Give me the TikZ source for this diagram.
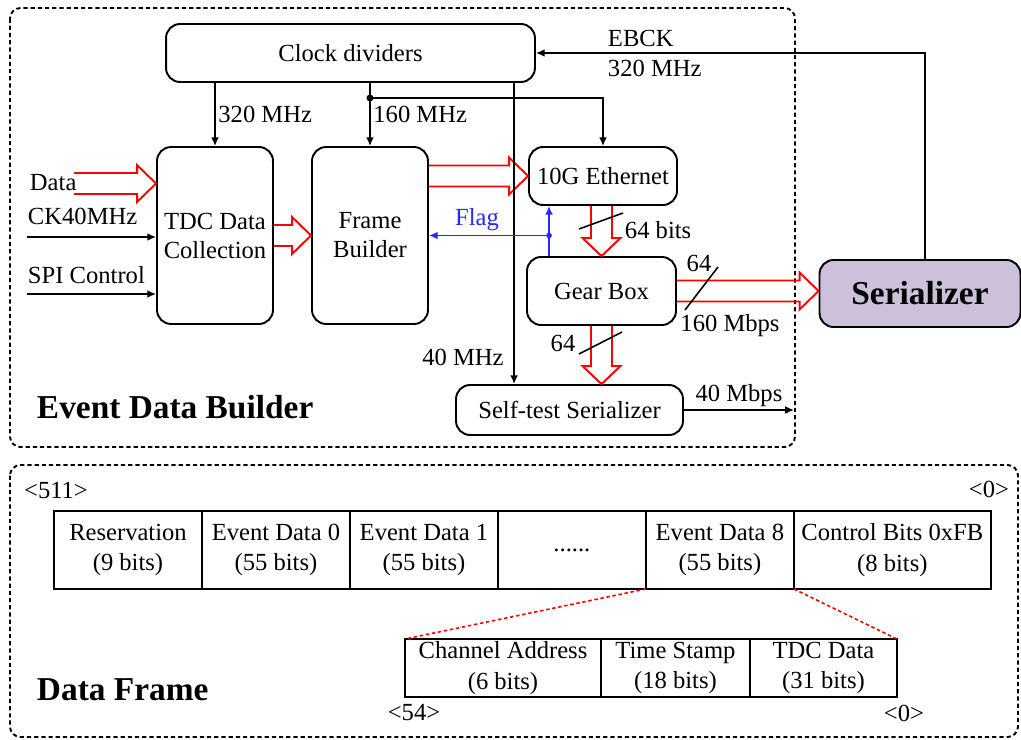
\documentclass[tikz,border=0pt]{standalone}
\usepackage{fontspec}
\setmainfont{Liberation Serif}
\usepackage{xcolor}
\usepackage{tikz}
\usetikzlibrary{arrows.meta,calc,positioning}

\definecolor{serfill}{RGB}{204,192,218}
\definecolor{flagblue}{RGB}{40,40,255}

% hollow red bus arrows (start point, tip point)
\newcommand{\fatright}[2]{%
  \draw[fat] ($(#1)+(0,-10.5)$) -- ($(#2)+(-19,-10.5)$) -- ($(#2)+(-19,-18.5)$)
    -- (#2) -- ($(#2)+(-19,18.5)$) -- ($(#2)+(-19,10.5)$) -- ($(#1)+(0,10.5)$);}
\newcommand{\fatdown}[2]{%
  \draw[fat] ($(#1)+(-10.5,0)$) -- ($(#2)+(-10.5,-18)$) -- ($(#2)+(-19,-18)$)
    -- (#2) -- ($(#2)+(19,-18)$) -- ($(#2)+(10.5,-18)$) -- ($(#1)+(10.5,0)$);}

\begin{document}
\begin{tikzpicture}[x=0.02cm,y=-0.02cm,
  font=\fontsize{14}{16.5}\selectfont,
  >={Latex[length=5pt,width=4.5pt]},
  lbl/.style={inner sep=1.5pt},
  blk/.style={draw,line width=1.1pt,rounded corners=8pt,align=center,inner sep=0pt},
  fat/.style={draw=red,line width=1.1pt},
  wire/.style={line width=0.9pt},
  flagline/.style={draw=flagblue,line width=0.9pt},
  cell/.style={draw,line width=1.1pt,align=center,inner sep=0pt,outer sep=0pt,
    minimum width=2.96cm,minimum height=1.56cm,font=\fontsize{14}{17.5}\selectfont},
  subcell/.style={cell,minimum height=1.16cm},
  dashbox/.style={line width=1.1pt,dash pattern=on 2.4pt off 1.7pt,rounded corners=6pt},
  zoomline/.style={draw=red,line width=0.9pt,dash pattern=on 2pt off 1.5pt},
  title/.style={anchor=west,inner sep=1.5pt,font=\fontsize{19}{22}\selectfont\bfseries}]

  \useasboundingbox (0,0) rectangle (1021,740);

  % outer frames
  \draw[dashbox] (10,8) rectangle (795,447);
  \draw[dashbox] (10,465) rectangle (1018,737);

  % event data builder blocks
  \node[blk,minimum width=7.38cm,minimum height=1.16cm] (clk) at (350.5,53) {Clock dividers};
  \node[blk,minimum width=2.32cm,minimum height=3.54cm] (tdc) at (215,235.5) {TDC Data\\Collection};
  \node[blk,minimum width=2.32cm,minimum height=3.54cm] (frame) at (370,235.5) {Frame\\Builder};
  \node[blk,minimum width=2.96cm,minimum height=1.16cm] (eth) at (603,176) {10G Ethernet};
  \node[blk,minimum width=2.98cm,minimum height=1.36cm] (gear) at (601.5,291) {Gear Box};
  \node[blk,minimum width=4.54cm,minimum height=1.0cm] (st) at (569.5,410) {Self-test Serializer};
  \node[blk,fill=serfill,minimum width=4.02cm,minimum height=1.34cm,
    font=\fontsize{19}{22}\selectfont\bfseries] (ser) at (920,293.5) {Serializer};

  % inputs
  \node[lbl,anchor=west] (datalbl) at (27,183) {Data};
  \node[lbl,anchor=west] (cklbl) at (25,216) {CK40MHz};
  \node[lbl,anchor=west] (spilbl) at (25,275) {SPI Control};
  \coordinate (din) at (74,183.5);
  \coordinate (ckin) at (27,237);
  \coordinate (spiin) at (27,294);
  \fatright{din}{din -| tdc.west}
  \draw[wire,->] (ckin) -- (ckin -| tdc.west);
  \draw[wire,->] (spiin) -- (spiin -| tdc.west);

  % data buses
  \fatright{tdc.east}{tdc.east -| frame.west}
  \fatright{frame.east |- eth.west}{eth.west}
  \fatdown{gear.north |- eth.south}{gear.north}
  \fatdown{gear.south}{gear.south |- st.north}
  \fatright{gear.east}{gear.east -| ser.west}

  % bus widths
  \draw[wire] (579,229) -- (623,213);
  \node[lbl,anchor=west] (w64a) at (622,230) {64 bits};
  \draw[wire] (685,310) -- (718,267);
  \node[lbl] (w64b) at (699,263) {64};
  \node[lbl] (rate160) at (730,326) {160 Mbps};
  \draw[wire] (579,354) -- (622,332);
  \node[lbl] (w64c) at (563,343) {64};

  % clocks
  \draw[wire,->] (tdc.north |- clk.south) -- (tdc.north) node[midway,right,lbl] {320 MHz};
  \draw[wire,->] (frame.north |- clk.south) -- (frame.north) node[midway,right,lbl] {160 MHz};
  \coordinate (j160) at ($(frame.north |- clk.south)+(0,15)$);
  \fill (j160) circle (2pt);
  \draw[wire,->] (j160) -| (eth.north);
  \coordinate (c40) at ($(st.north west)+(59,0)$);
  \draw[wire,->] (c40 |- clk.south) -- (c40) node[pos=0.91,left=4pt,lbl] {40 MHz};

  % EBCK feedback
  \coordinate (ebck) at ($(ser.north)+(5,0)$);
  \draw[wire,->] (ebck) |- (clk.east);
  \node[lbl,anchor=west] (ebcklbl) at (605,38) {EBCK};
  \node[lbl,anchor=west] (ebckf) at (605,68) {320 MHz};

  % flag
  \coordinate (fl) at ($(gear.north west)+(23,0)$);
  \draw[flagline,->] (fl) -- (fl |- eth.south);
  \draw[flagline,->] (fl |- frame.east) -- (frame.east)
    node[pos=0.6,above=1pt,lbl,text=flagblue] {Flag};
  \fill[flagblue] (fl |- frame.east) circle (1.6pt);

  % self-test output
  \coordinate (out40) at (794,410);
  \draw[wire,->] (st.east) -- (out40) node[midway,above,lbl] {40 Mbps};

  \node[title] (edb) at (34,407) {Event Data Builder};

  % data frame
  \node[cell] (res) at (128,550) {Reservation\\(9 bits)};
  \node[cell,right=0pt of res] (ev0) {Event Data 0\\(55 bits)};
  \node[cell,right=0pt of ev0] (ev1) {Event Data 1\\(55 bits)};
  \node[cell,right=0pt of ev1] (dots) {......};
  \node[cell,right=0pt of dots] (ev8) {Event Data 8\\(55 bits)};
  \node[cell,right=0pt of ev8,minimum width=3.94cm] (ctrl) {Control Bits 0xFB\\(8 bits)};

  \node[subcell,minimum width=3.92cm] (chan) at (503,668) {Channel Address\\(6 bits)};
  \node[subcell,right=0pt of chan,minimum width=2.98cm] (tstamp) {Time Stamp\\(18 bits)};
  \node[subcell,right=0pt of tstamp,minimum width=2.94cm] (tdcdata) {TDC Data\\(31 bits)};

  \draw[zoomline] (ev8.south west) -- (chan.north west);
  \draw[zoomline] (ev8.south east) -- (tdcdata.north east);

  \node[lbl] (b511) at (56,490) {<511>};
  \node[lbl] (b0) at (989,489) {<0>};
  \node[lbl] (b54) at (414,713) {<54>};
  \node[lbl] (b0s) at (904,713) {<0>};

  \node[title] (df) at (34,690) {Data Frame};
\end{tikzpicture}
\end{document}
